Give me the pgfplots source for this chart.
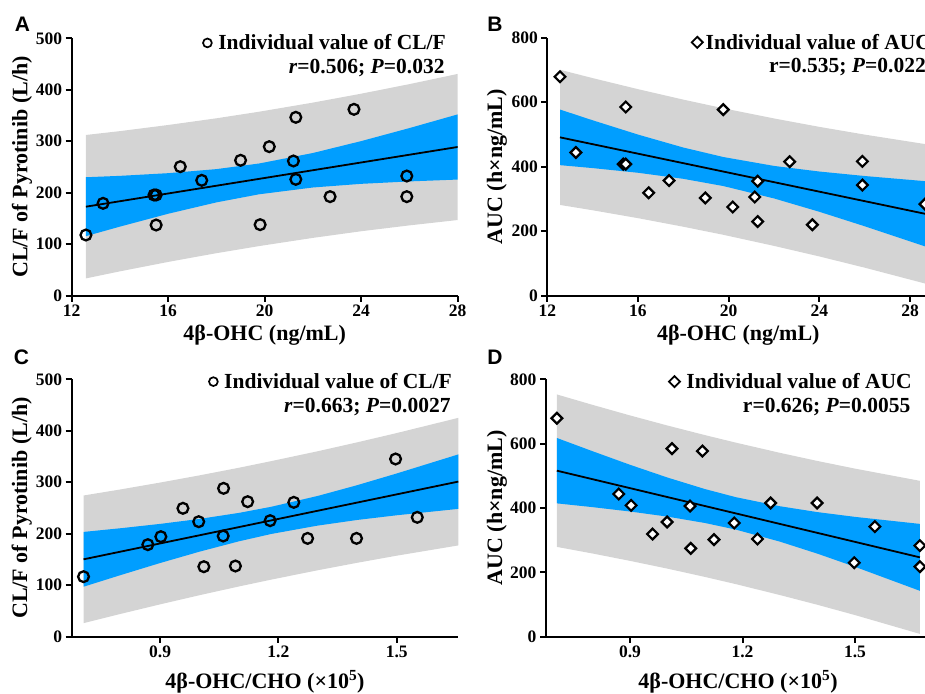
\documentclass[border=0pt]{standalone}
\usepackage{fontspec}
\setmainfont{Liberation Serif}
\newfontfamily\panelfont{Liberation Sans}
\usepackage{pgfplots}
\pgfplotsset{compat=1.18}

\definecolor{cibl}{RGB}{0,158,255}
\definecolor{pigr}{RGB}{212,212,212}

\newcommand\tickfont{\fontsize{17.5}{19}\selectfont\bfseries}
\newcommand\labfont{\fontsize{22}{24}\selectfont\bfseries}
\newcommand\legfont{\fontsize{21.5}{24}\selectfont\bfseries}
\newcommand\letfont{\fontsize{21}{22}\selectfont\panelfont\bfseries}

\pgfplotsset{
  panel/.style={
    scale only axis, anchor=south west,
    axis lines=left, axis line style={-, line width=2.3pt},
    tick align=outside, major tick length=6pt,
    tick style={line width=2pt, black},
    ticklabel style={font=\tickfont},
    /pgf/number format/assume math mode=true,
    xlabel style={font=\labfont, anchor=center},
    ylabel style={font=\labfont, anchor=center},
    legend style={draw=none, fill=none, anchor=east, font=\legfont,
      inner sep=0pt, row sep=0pt},
    legend cell align=left,
  },
  circleg/.style={legend image code/.code={
      \draw[line width=1.7pt] (3pt,0) circle (4.4pt);}},
  diamleg/.style={legend image code/.code={
      \draw[line width=1.8pt, shift={(6pt,0)}, rotate=45] (-3.9pt,-3.9pt) rectangle (3.9pt,3.9pt);}},
  band/.style={draw=none, fill=pigr, forget plot},
  conf/.style={draw=none, fill=cibl, forget plot},
  fit/.style={line width=1.8pt, black, forget plot},
  circ/.style={only marks, mark=o, mark size=5.4pt, line width=2.3pt, black},
  diam/.style={only marks, mark=square*, mark size=3.8pt, line width=2.2pt, black,
    mark options={rotate=45, fill=white}},
}

\begin{document}
\begin{tikzpicture}
\useasboundingbox (0pt,0pt) rectangle (925pt,693pt);
\clip (0pt,0pt) rectangle (925pt,693pt);

% ---------- A ----------
\begin{axis}[panel, circleg, at={(71.7pt,397.3pt)}, width=386pt, height=257.4pt,
  xmin=12, xmax=28, ymin=0, ymax=500,
  xtick={12,16,20,24,28}, ytick={0,100,200,300,400,500},
  xlabel={4β-OHC (ng/mL)}, ylabel={CL/F of Pyrotinib (L/h)},
  xlabel style={at={(axis description cs:0.5,-0.153)}},
  ylabel style={at={(axis description cs:-0.129,0.5)}},
  legend style={at={(0.975,0.982)}}]
\addplot[band] coordinates {(12.59,312.2)(14,319.7)(16,331.6)(18,344.6)(19.77,357.4)(22,375.1)(24,392.4)(26,411.0)(28,430.8)
  (28,147.0)(26,136.6)(24,125.2)(22,112.3)(19.77,96.4)(18,82.6)(16,65.6)(14,47.3)(12.59,33.6)} -- cycle;
\addplot[conf] coordinates {(12.59,230.1)(14,232.8)(16,238.0)(18,245.9)(19.77,256.8)(22,277.2)(24,300.3)(26,325.6)(28,352.2)
  (28,225.6)(26,222.0)(24,217.3)(22,210.2)(19.77,197.0)(18,181.3)(16,159.2)(14,134.2)(12.59,115.7)} -- cycle;
\addplot[fit] coordinates {(12.59,172.9)(28,288.9)};
\addplot[circ] coordinates {(12.59,117.9)(13.30,179.4)(15.41,195.6)(15.50,195.6)(15.50,137.3)
  (16.50,250.6)(17.39,224.1)(19.00,263.0)(19.81,138.0)(20.19,289.5)(21.19,261.7)
  (21.29,346.5)(21.29,226.0)(22.71,192.4)(23.70,362.0)(25.89,232.5)(25.89,192.4)};
\addlegendentry{\,Individual value of CL/F}
\node[anchor=east, font=\legfont] at (rel axis cs:0.975,0.885) {\textit{r}=0.506; \textit{P}=0.032};
\end{axis}

% ---------- B ----------
\begin{axis}[panel, diamleg, at={(547.3pt,397.3pt)}, width=382pt, height=258pt,
  xmin=12, xmax=28.85, ymin=0, ymax=800,
  xtick={12,16,20,24,28}, ytick={0,200,400,600,800},
  xlabel={4β-OHC (ng/mL)}, ylabel={AUC (h×ng/mL)},
  xlabel style={at={(axis description cs:0.5,-0.153)}},
  ylabel style={at={(axis description cs:-0.132,0.5)}},
  legend style={at={(1.01,0.982)}}]
\addplot[band] coordinates {(12.56,700.6)(14,674.7)(16,640.4)(18,608.0)(19.77,581.1)(22,549.6)(24,523.5)(26,499.5)(28.66,470.2)
  (28.66,37.8)(26,86.9)(24,121.7)(22,154.4)(19.77,188.7)(18,213.8)(16,240.4)(14,264.9)(12.56,281.4)} -- cycle;
\addplot[conf] coordinates {(12.56,577.2)(14,543.9)(16,499.6)(18,459.4)(19.77,429.9)(22,402.4)(24,385.0)(26,371.1)(28.66,355.2)
  (28.66,152.8)(26,215.3)(24,260.2)(22,301.6)(19.77,339.9)(18,362.4)(16,381.2)(14,395.7)(12.56,404.8)} -- cycle;
\addplot[fit] coordinates {(12.56,491.0)(28.66,254.0)};
\addplot[diam] coordinates {(12.56,679)(13.26,444)(15.35,408)(15.46,408)(15.46,585)
  (16.47,319)(17.37,357)(18.97,303)(19.76,577)(20.18,275)(21.15,306)(21.28,355)
  (21.28,230)(22.69,415.5)(23.69,220)(25.90,416.5)(25.90,343)(28.66,284)};
\addlegendentry{Individual value of AUC}
\node[anchor=east, font=\legfont] at (rel axis cs:1.0,0.885) {r=0.535; \textit{P}=0.022};
\end{axis}

% ---------- C ----------
\begin{axis}[panel, circleg, at={(71.7pt,56.3pt)}, width=386.6pt, height=257.4pt,
  xmin=0.676, xmax=1.656, ymin=0, ymax=500,
  xtick={0.9,1.2,1.5}, xticklabels={0.9,1.2,1.5}, ytick={0,100,200,300,400,500},
  xlabel={4β-OHC/CHO (×10\textsuperscript{5})}, ylabel={CL/F of Pyrotinib (L/h)},
  xlabel style={at={(axis description cs:0.5,-0.175)}},
  ylabel style={at={(axis description cs:-0.129,0.5)}},
  legend style={at={(0.989,0.991)}}]
\addplot[band] coordinates {(0.706,274.3)(0.8,286.1)(0.9,299.4)(1.0,313.4)(1.1,328.2)(1.182,341.1)(1.3,360.3)(1.4,377.6)(1.5,395.6)(1.656,425.1)
  (1.656,177.3)(1.5,157.4)(1.4,143.6)(1.3,129.1)(1.182,110.9)(1.1,97.6)(1.0,80.6)(0.9,62.8)(0.8,44.3)(0.706,26.3)} -- cycle;
\addplot[conf] coordinates {(0.706,203.5)(0.8,210.7)(0.9,219.1)(1.0,228.8)(1.1,240.5)(1.182,252.4)(1.3,273.5)(1.4,294.4)(1.5,317.1)(1.656,354.1)
  (1.656,248.3)(1.5,235.9)(1.4,226.8)(1.3,215.9)(1.182,199.6)(1.1,185.3)(1.0,165.2)(0.9,143.1)(0.8,119.7)(0.706,97.1)} -- cycle;
\addplot[fit] coordinates {(0.706,150.3)(1.656,301.3)};
\addplot[circ] coordinates {(0.706,116.6)(0.869,178.8)(0.902,194.3)(0.958,249.4)(0.998,223.4)
  (1.011,136.0)(1.061,288.2)(1.060,195.6)(1.091,137.3)(1.122,262.3)(1.179,225.4)
  (1.239,261.0)(1.274,191.0)(1.398,191.0)(1.497,345.2)(1.552,231.9)};
\addlegendentry{\,Individual value of CL/F}
\node[anchor=east, font=\legfont] at (rel axis cs:0.989,0.894) {\textit{r}=0.663; \textit{P}=0.0027};
\end{axis}

% ---------- D ----------
\begin{axis}[panel, diamleg, at={(546pt,56.3pt)}, width=384pt, height=257.4pt,
  xmin=0.676, xmax=1.70, ymin=0, ymax=800,
  xtick={0.9,1.2,1.5}, xticklabels={0.9,1.2,1.5}, ytick={0,200,400,600,800},
  xlabel={4β-OHC/CHO (×10\textsuperscript{5})}, ylabel={AUC (h×ng/mL)},
  xlabel style={at={(axis description cs:0.5,-0.175)}},
  ylabel style={at={(axis description cs:-0.128,0.5)}},
  legend style={at={(0.958,0.991)}}]
\addplot[band] coordinates {(0.705,752.9)(0.8,720.6)(0.9,687.7)(1.0,656.3)(1.1,626.5)(1.182,603.2)(1.3,571.4)(1.4,546.1)(1.5,522.4)(1.673,484.5)
  (1.673,8.7)(1.5,67.2)(1.4,99.1)(1.3,129.4)(1.182,163.4)(1.1,185.7)(1.0,211.5)(0.9,235.7)(0.8,258.6)(0.705,279.1)} -- cycle;
\addplot[conf] coordinates {(0.705,617.6)(0.8,576.5)(0.9,534.3)(1.0,494.6)(1.1,458.8)(1.182,433.7)(1.3,405.4)(1.4,387.2)(1.5,372.4)(1.673,350.6)
  (1.673,142.6)(1.5,217.2)(1.4,258.0)(1.3,295.4)(1.182,332.9)(1.1,353.4)(1.0,373.2)(0.9,389.1)(0.8,402.7)(0.705,414.4)} -- cycle;
\addplot[fit] coordinates {(0.705,516.0)(1.673,246.6)};
\addplot[diam] coordinates {(0.705,678.8)(0.870,443.5)(0.903,408.3)(0.960,319.0)(0.999,356.5)
  (1.012,584.5)(1.060,406.0)(1.062,274.6)(1.093,577.0)(1.124,301.6)(1.178,353.4)
  (1.240,303.6)(1.275,415.5)(1.399,415.5)(1.498,230.0)(1.553,342.0)(1.673,283.0)(1.673,217.6)};
\addlegendentry{\,Individual value of AUC}
\node[anchor=east, font=\legfont] at (rel axis cs:0.958,0.894) {r=0.626; \textit{P}=0.0055};
\end{axis}

\node[font=\letfont] at (22.5pt,668.5pt) {A};
\node[font=\letfont] at (495pt,668.5pt) {B};
\node[font=\letfont] at (21.5pt,335.5pt) {C};
\node[font=\letfont] at (495pt,335.5pt) {D};
\end{tikzpicture}
\end{document}
